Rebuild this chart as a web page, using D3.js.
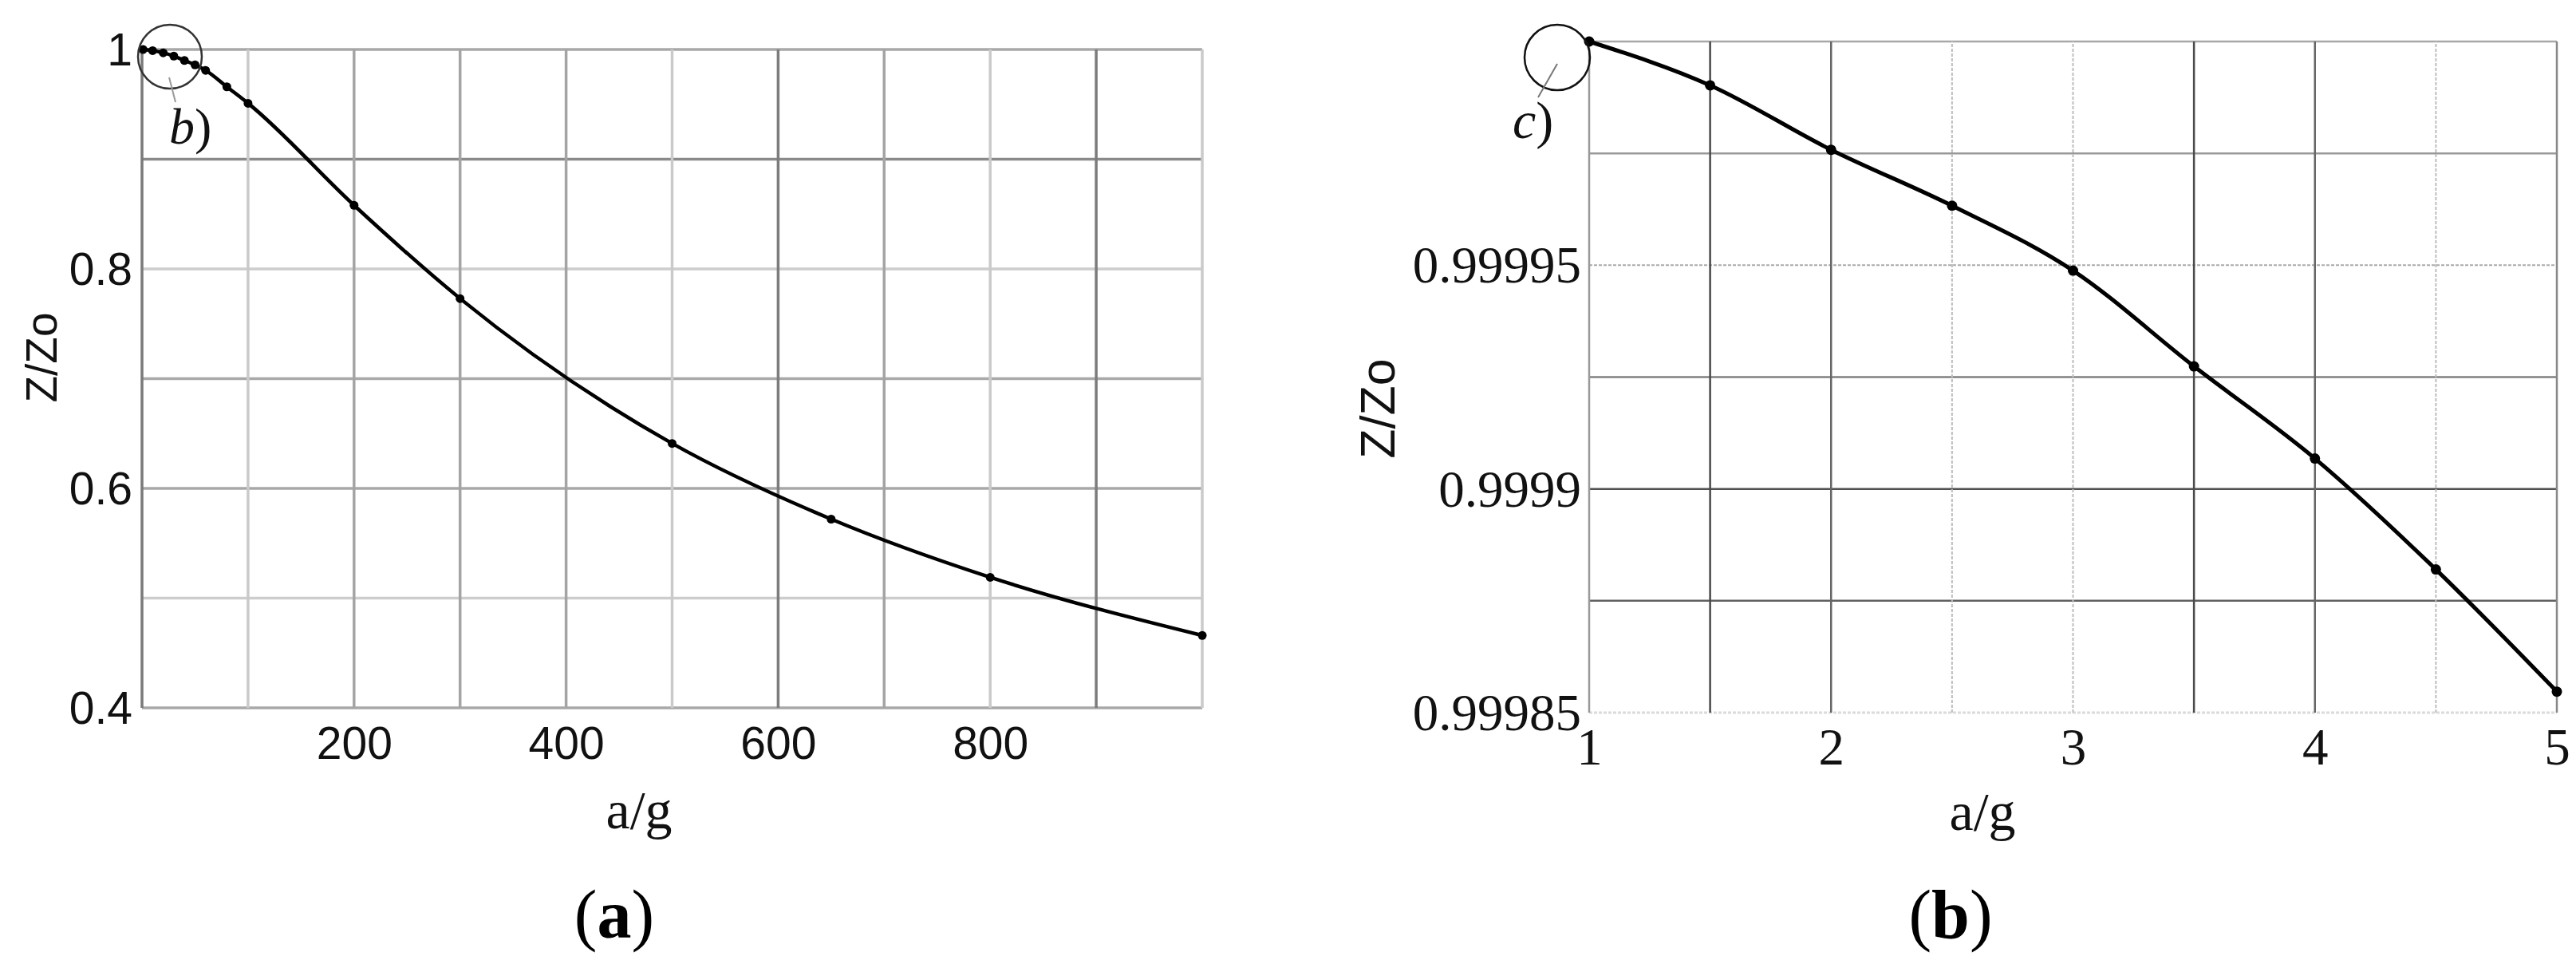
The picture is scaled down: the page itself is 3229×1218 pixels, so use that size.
<!DOCTYPE html>
<html>
<head>
<meta charset="utf-8">
<script src="https://cdn.jsdelivr.net/npm/d3@7"></script>
<style>
  html, body { margin: 0; padding: 0; background: #fff; }
  svg { display: block; }
</style>
</head>
<body>
<script>
// ---------- DATA ----------
// Panel (a)
const aX = [1, 10, 20, 30, 40, 50, 60, 80, 100, 200, 300, 500, 650, 800, 1000];
const aY = [1.000, 0.999, 0.997, 0.994, 0.990, 0.986, 0.981, 0.966, 0.951, 0.858, 0.773, 0.641, 0.572, 0.519, 0.466];
const aXTicks = [200, 400, 600, 800];
const aYTicks = [0.4, 0.6, 0.8, 1];
const aYTickLabels = ["0.4", "0.6", "0.8", "1"];
const aXGrid = [100, 200, 300, 400, 500, 600, 700, 800, 900, 1000];
const aYGrid = [0.4, 0.5, 0.6, 0.7, 0.8, 0.9, 1.0];

// Panel (b)
const bX = [1, 1.5, 2, 2.5, 3, 3.5, 4, 4.5, 5];
const bY = [1.0, 0.9999902, 0.9999758, 0.9999633, 0.9999488, 0.9999274, 0.9999068, 0.9998820, 0.9998547];
const bXTicks = [1, 2, 3, 4, 5];
const bYTicks = [0.99985, 0.9999, 0.99995];
const bYTickLabels = ["0.99985", "0.9999", "0.99995"];
const bXGrid = [1, 1.5, 2, 2.5, 3, 3.5, 4, 4.5, 5];
const bYGrid = [0.99985, 0.999875, 0.9999, 0.999925, 0.99995, 0.999975, 1.0];

// ---------- SETUP ----------
const W = 3229, H = 1218;
const svg = d3.select("body").append("svg").attr("width", W).attr("height", H);
svg.append("rect").attr("width", W).attr("height", H).attr("fill", "#fff");

const serif = "'Liberation Serif', 'Times New Roman', serif";
const sans = "'Liberation Sans', Arial, sans-serif";

// ---------- PANEL (a) ----------
const xA = d3.scaleLinear().domain([0, 1000]).range([178, 1507]);
const yA = d3.scaleLinear().domain([0.4, 1.0]).range([887, 62]);
const gA = svg.append("g");

function aVColor(v) {
  if (v === 600 || v === 900) return "#7c7c7c";
  if (v === 200 || v === 300 || v === 400 || v === 700) return "#a4a4a4";
  return "#cacaca";
}
function aHColor(v) {
  const r = Math.round(v * 10);
  if (r === 9) return "#8a8a8a";
  if (r === 5 || r === 8) return "#cdcdcd";
  return "#a8a8a8";
}
gA.selectAll("line.hg").data(aYGrid).join("line")
  .attr("x1", xA(0)).attr("x2", xA(1000))
  .attr("y1", d => yA(d)).attr("y2", d => yA(d))
  .attr("stroke", d => aHColor(d)).attr("stroke-width", 3.5);
gA.selectAll("line.vg").data(aXGrid).join("line")
  .attr("x1", d => xA(d)).attr("x2", d => xA(d))
  .attr("y1", yA(0.4)).attr("y2", yA(1.0))
  .attr("stroke", d => aVColor(d)).attr("stroke-width", 3.5);
// left border
gA.append("line").attr("x1", xA(0)).attr("x2", xA(0)).attr("y1", yA(0.4)).attr("y2", yA(1.0))
  .attr("stroke", "#7a7a7a").attr("stroke-width", 3.5);

// axes (labels)
const axA_x = d3.axisBottom(xA).tickValues(aXTicks).tickSize(0).tickPadding(20).tickFormat(d3.format("d"));
gA.append("g").attr("transform", `translate(0,${yA(0.4)})`).call(axA_x)
  .call(g => g.select(".domain").remove())
  .selectAll("text").attr("font-family", sans).attr("font-size", 57).attr("fill", "#111")
  .attr("dy", "0.78em").attr("y", 20);
const axA_y = d3.axisLeft(yA).tickValues(aYTicks).tickSize(0).tickPadding(12)
  .tickFormat((d, i) => aYTickLabels[i]);
gA.append("g").attr("transform", `translate(${xA(0)},0)`).call(axA_y)
  .call(g => g.select(".domain").remove())
  .selectAll("text").attr("font-family", sans).attr("font-size", 57).attr("fill", "#111")
  .attr("dy", "0.35em");

// titles
gA.append("text").attr("transform", `translate(71,448) rotate(-90)`)
  .attr("text-anchor", "middle").attr("font-family", sans).attr("font-size", 55).attr("fill", "#111")
  .text("Z/Zo");
gA.append("text").attr("x", 801).attr("y", 1038).attr("text-anchor", "middle")
  .attr("font-family", serif).attr("font-size", 68).attr("fill", "#111").text("a/g");
const capA = gA.append("text").attr("x", 770).attr("y", 1175).attr("text-anchor", "middle")
  .attr("font-family", serif).attr("font-size", 86).attr("fill", "#000");
capA.append("tspan").text("(");
capA.append("tspan").attr("font-weight", "bold").text("a");
capA.append("tspan").text(")");

// data line
const lineA = d3.line().x((d, i) => xA(aX[i])).y(d => yA(d)).curve(d3.curveMonotoneX);
gA.append("path").datum(aY).attr("d", lineA).attr("fill", "none")
  .attr("stroke", "#000").attr("stroke-width", 4.5);
gA.selectAll("circle.pt").data(aY).join("circle")
  .attr("cx", (d, i) => xA(aX[i])).attr("cy", d => yA(d)).attr("r", 5.5).attr("fill", "#000");

// annotation circle b)
gA.append("circle").attr("cx", 213).attr("cy", 71).attr("r", 40)
  .attr("fill", "none").attr("stroke", "#333").attr("stroke-width", 2.5);
gA.append("line").attr("x1", 212).attr("y1", 97).attr("x2", 220).attr("y2", 128)
  .attr("stroke", "#999").attr("stroke-width", 2);
const bl = gA.append("text").attr("x", 212).attr("y", 180)
  .attr("font-family", serif).attr("font-size", 64).attr("fill", "#111");
bl.append("tspan").attr("font-style", "italic").text("b");
bl.append("tspan").text(")");

// ---------- PANEL (b) ----------
const xB = d3.scaleLinear().domain([1, 5]).range([1992, 3205]);
const yB = d3.scaleLinear().domain([0.99985, 1.0]).range([893, 52]);
const gB = svg.append("g");

function bVStyle(v) {
  if (v === 1.5 || v === 3.5) return ["#4a4a4a", 2.5, null];
  if (v === 2 || v === 4) return ["#666", 2.5, null];
  if (v === 1) return ["#999", 2.5, null];
  if (v === 5) return ["#888", 2.5, null];
  return ["#bdbdbd", 2, "4,2"];
}
function bHStyle(v) {
  const k = Math.round((1 - v) / 0.000025);
  if (k === 0) return ["#a8a8a8", 2.5, null];
  if (k === 1) return ["#999", 2.5, null];
  if (k === 2) return ["#aaa", 2, "4,2"];
  if (k === 3) return ["#808080", 2.5, null];
  if (k === 4) return ["#505050", 2.5, null];
  if (k === 5) return ["#606060", 2.5, null];
  return ["#d8dcdc", 3, "4,2"];
}
gB.selectAll("line.hg").data(bYGrid).join("line")
  .attr("x1", xB(1)).attr("x2", xB(5))
  .attr("y1", d => yB(d)).attr("y2", d => yB(d))
  .attr("stroke", d => bHStyle(d)[0]).attr("stroke-width", d => bHStyle(d)[1])
  .attr("stroke-dasharray", d => bHStyle(d)[2]);
gB.selectAll("line.vg").data(bXGrid).join("line")
  .attr("x1", d => xB(d)).attr("x2", d => xB(d))
  .attr("y1", yB(0.99985)).attr("y2", yB(1.0))
  .attr("stroke", d => bVStyle(d)[0]).attr("stroke-width", d => bVStyle(d)[1])
  .attr("stroke-dasharray", d => bVStyle(d)[2]);

const axB_x = d3.axisBottom(xB).tickValues(bXTicks).tickSize(0).tickFormat(d3.format("d"));
gB.append("g").attr("transform", `translate(0,${yB(0.99985)})`).call(axB_x)
  .call(g => g.select(".domain").remove())
  .selectAll("text").attr("font-family", serif).attr("font-size", 65).attr("fill", "#111")
  .attr("dy", "0.72em").attr("y", 18);
const axB_y = d3.axisLeft(yB).tickValues(bYTicks).tickSize(0).tickPadding(10)
  .tickFormat((d, i) => bYTickLabels[i]);
gB.append("g").attr("transform", `translate(${xB(1)},0)`).call(axB_y)
  .call(g => g.select(".domain").remove())
  .selectAll("text").attr("font-family", serif).attr("font-size", 65).attr("fill", "#111")
  .attr("dy", "0.33em");

gB.append("text").attr("transform", `translate(1748,512) rotate(-90)`)
  .attr("text-anchor", "middle").attr("font-family", sans).attr("font-size", 61).attr("fill", "#111")
  .text("Z/Zo");
gB.append("text").attr("x", 2485).attr("y", 1040).attr("text-anchor", "middle")
  .attr("font-family", serif).attr("font-size", 68).attr("fill", "#111").text("a/g");
const capB = gB.append("text").attr("x", 2445).attr("y", 1175).attr("text-anchor", "middle")
  .attr("font-family", serif).attr("font-size", 86).attr("fill", "#000");
capB.append("tspan").text("(");
capB.append("tspan").attr("font-weight", "bold").text("b");
capB.append("tspan").text(")");

const lineB = d3.line().x((d, i) => xB(bX[i])).y(d => yB(d)).curve(d3.curveMonotoneX);
gB.append("path").datum(bY).attr("d", lineB).attr("fill", "none")
  .attr("stroke", "#000").attr("stroke-width", 5);
gB.selectAll("circle.pt").data(bY).join("circle")
  .attr("cx", (d, i) => xB(bX[i])).attr("cy", d => yB(d)).attr("r", 6.5).attr("fill", "#000");

// annotation circle c)
gB.append("circle").attr("cx", 1952).attr("cy", 72).attr("r", 41)
  .attr("fill", "none").attr("stroke", "#111").attr("stroke-width", 2.5);
gB.append("line").attr("x1", 1952).attr("y1", 80).attr("x2", 1928).attr("y2", 122)
  .attr("stroke", "#777").attr("stroke-width", 2);
const cl = gB.append("text").attr("x", 1896).attr("y", 173)
  .attr("font-family", serif).attr("font-size", 66).attr("fill", "#111");
cl.append("tspan").attr("font-style", "italic").text("c");
cl.append("tspan").text(")");
</script>
</body>
</html>
